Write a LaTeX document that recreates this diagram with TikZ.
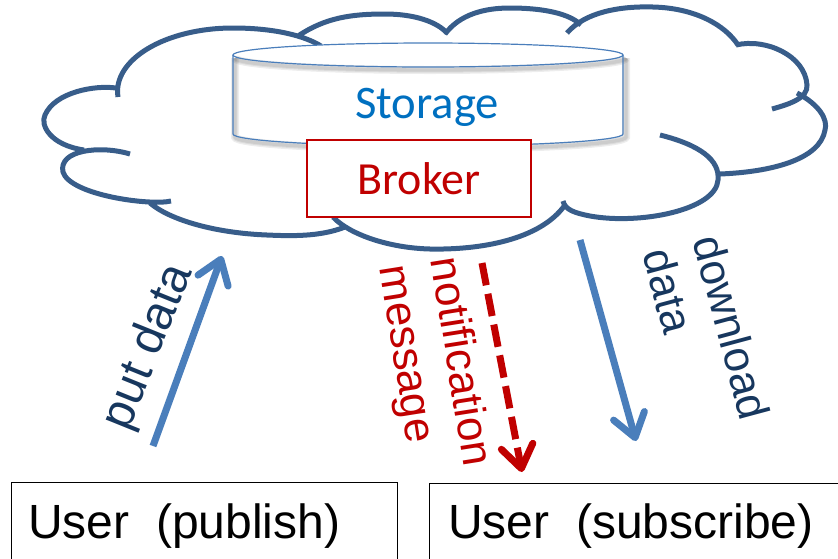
\documentclass[tikz,border=0pt]{standalone}
\usepackage{fontspec}
\setmainfont{Liberation Sans}
\newfontfamily\calibrifont{Carlito}
\usetikzlibrary{arrows.meta}
\definecolor{cloudblue}{HTML}{385D8A}
\definecolor{arrowblue}{HTML}{4A7EBB}
\definecolor{navytext}{HTML}{17375E}
\definecolor{darkred}{HTML}{C00000}
\definecolor{storageblue}{HTML}{0070C0}
\tikzset{
  cloudline/.style={draw=cloudblue, line width=3.75pt},
  cylline/.style={draw=arrowblue, line width=0.9pt},
  softshadow/.style={draw=black, draw opacity=0.07, line width=#1},
  storagetext/.style={text=storageblue, font=\calibrifont\fontsize{35}{42}\selectfont, inner sep=0pt},
  brokerbox/.style={draw=darkred, line width=0.9pt, fill=white, minimum width=168pt, minimum height=57.75pt, inner sep=0pt,
    text=darkred, font=\calibrifont\fontsize{34.5}{41}\selectfont},
  userbox/.style={draw=black, line width=0.9pt, inner sep=0pt},
  usertext/.style={text=black, font=\fontsize{36}{43}\selectfont, inner sep=0pt},
  flowarrow/.style={draw=arrowblue, line width=5.25pt, -{Straight Barb[length=17pt, width=24pt, line cap=round, line join=round]}},
  notifyarrow/.style={draw=darkred, line width=5.25pt, dash pattern=on 17pt off 6.5pt,
    -{Straight Barb[length=17pt, width=24pt, line cap=round, line join=round]}},
  labelnavy/.style={text=navytext, font=\fontsize{33}{39}\selectfont, inner sep=0pt},
  labelred/.style={text=darkred, font=\fontsize{33}{39}\selectfont, inner sep=0pt}
}
\begin{document}
\begin{tikzpicture}[x=0.75pt, y=-0.75pt]
\useasboundingbox (0,0) rectangle (838,558);
\clip (0,0) rectangle (838,558);
% cloud
\path[cloudline]
  (118,97) .. controls (112,60) and (165,28) .. (233,28) .. controls (275,28) and (305,36) .. (321,46)
  (298,36) .. controls (325,18) and (350,14) .. (385,14) .. controls (415,14) and (437,22) .. (447,33)
  (445,34) .. controls (460,14) and (485,8) .. (510,8) .. controls (545,8) and (570,14) .. (581,25)
  (567,33) .. controls (585,12) and (620,6) .. (653,7) .. controls (695,8) and (725,25) .. (738,45)
  (736,45) .. controls (765,38) and (805,55) .. (807,85) .. controls (808,98) and (790,104) .. (772,109)
  (797,93) .. controls (820,105) and (828,120) .. (825,130) .. controls (820,160) and (770,172) .. (720,174)
  (660,135) .. controls (700,145) and (720,160) .. (718,180) .. controls (716,210) and (640,225) .. (590,216) .. controls (575,213) and (565,210) .. (563,201)
  (565,205) .. controls (540,240) and (480,250) .. (430,249) .. controls (390,248) and (350,235) .. (333,217)
  (345,227) .. controls (320,237) and (290,236) .. (267,235) .. controls (215,233) and (170,220) .. (150,203)
  (171,201) .. controls (150,206) and (70,195) .. (63,172) .. controls (58,150) and (100,145) .. (130,154)
  (84,150) .. controls (50,145) and (40,125) .. (45,115) .. controls (55,92) and (95,85) .. (116,88);
% storage cylinder
\path[fill=white] (233,55) -- (233,134) .. controls (233,140.6) and (320.3,146) .. (428,146)
  .. controls (535.7,146) and (623,140.6) .. (623,134) -- (623,55) -- cycle;
\path[fill=white] (428,55) ellipse [x radius=195, y radius=12];
\foreach \w in {6pt,4pt,2.5pt}{
  \path[softshadow=\w] (235,58) -- (235,137) .. controls (235,143.6) and (322.3,149) .. (430,149)
    .. controls (537.7,149) and (626,143.6) .. (626,137) -- (626,58);
  \path[softshadow=\w] (235,58) .. controls (235,64.6) and (322.3,70) .. (430,70)
    .. controls (537.7,70) and (626,64.6) .. (626,58);
}
\path[cylline] (428,55) ellipse [x radius=195, y radius=12];
\path[cylline] (233,55) -- (233,134) .. controls (233,140.6) and (320.3,146) .. (428,146)
  .. controls (535.7,146) and (623,140.6) .. (623,134) -- (623,55);
\node[storagetext, anchor=base] (storage) at (427,118) {Storage};
\node[brokerbox] (broker) at (419,178.5) {Broker};
% users
\node[userbox, anchor=north west, minimum width=289.5pt, minimum height=90pt] (pubbox) at (11,482) {};
\node[userbox, anchor=north west, minimum width=315pt, minimum height=90pt] (subbox) at (429,483) {};
\node[usertext, anchor=base west] (pubtext) at (28,538) {User\ \ (publish)};
\node[usertext, anchor=base west] (subtext) at (448,538) {User\ \ (subscribe)};
% arrows
\coordinate (putS) at (153,446);
\coordinate (putE) at (222,256);
\coordinate (notS) at (482,263);
\coordinate (notE) at (522,472);
\coordinate (dlS) at (580,240);
\coordinate (dlE) at (636,441);
\draw[flowarrow] (putS) -- (putE);
\draw[notifyarrow] (notS) -- (notE);
\draw[flowarrow] (dlS) -- (dlE);
% labels
\node[labelnavy, font=\fontsize{36}{43}\selectfont, rotate=68] (putlabel) at (149,347) {put data};
\node[labelred, rotate=-81, align=left] (notlabel) at (433,366) {notification\\message};
\node[labelnavy, rotate=-75, align=left] (dllabel) at (707,334) {download\\data};
\end{tikzpicture}
\end{document}
